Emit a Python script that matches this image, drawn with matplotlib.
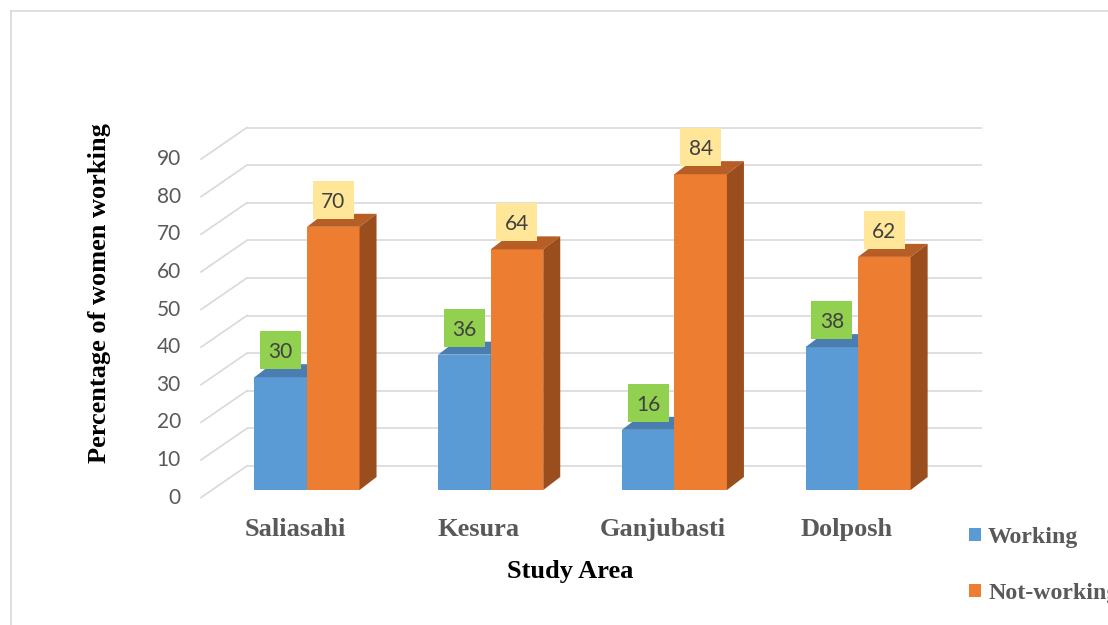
import matplotlib
matplotlib.use("Agg")
import matplotlib.pyplot as plt
from matplotlib.patches import Polygon, Rectangle, Patch
from matplotlib.lines import Line2D

# ---- data ----
areas = ["Saliasahi", "Kesura", "Ganjubasti", "Dolposh"]
working = [30, 36, 16, 38]
not_working = [70, 64, 84, 62]
series_names = ["Working", "Not-working"]
y_ticks = [0, 10, 20, 30, 40, 50, 60, 70, 80, 90]

# ---- style ----
FRONT = ["#5B9BD5", "#ED7D31"]
TOP = ["#4A7DB0", "#B65E25"]
SIDE = ["#3E6C99", "#9A4E1D"]
BOX = ["#92D050", "#FFE699"]
GRID = "#D9D9D9"
SERIF = "Liberation Serif"
SANS = "Lato"

fig = plt.figure(figsize=(11.08, 6.25), dpi=100)
ax = fig.add_axes([0, 0, 1, 1])
ax.set_xlim(-1.6712, 4.3603)
ax.set_ylim(-35.9, 130.32)
ax.axis("off")

# pseudo-3D geometry (category units / value units)
bar_w = 0.286
bar_dx, bar_dy = 0.0925, 3.46          # depth of each bar
wall_left, wall_right = -0.327, 3.674   # back wall extent
wall_dy = 6.4                           # back wall lift
front_x, front_dy = -0.577, -2.0        # front edge of side wall

# back wall and side wall gridlines
for v in y_ticks:
    ax.plot([wall_left, wall_right], [v + wall_dy, v + wall_dy],
            color=GRID, lw=1.2, zorder=1, solid_capstyle="butt")
    ax.plot([front_x, wall_left], [v + front_dy, v + wall_dy],
            color=GRID, lw=1.2, zorder=1)
    ax.text(front_x - 0.11, v + front_dy, str(v), ha="right", va="center",
            fontsize=15, color="#595959", family=SANS)

# bars with top and side faces
for j, vals in enumerate([working, not_working]):
    for i, v in enumerate(vals):
        x0 = i - bar_w if j == 0 else i
        x1 = x0 + bar_w
        ax.bar(x0, v, width=bar_w, align="edge", color=FRONT[j],
               edgecolor="none", zorder=3 + j)
        ax.add_patch(Polygon([(x0, v), (x1, v), (x1 + bar_dx, v + bar_dy),
                              (x0 + bar_dx, v + bar_dy)], closed=True,
                             facecolor=TOP[j], edgecolor="none", zorder=3 + j))
        ax.add_patch(Polygon([(x1, 0), (x1, v), (x1 + bar_dx, v + bar_dy),
                              (x1 + bar_dx, bar_dy)], closed=True,
                             facecolor=SIDE[j], edgecolor="none", zorder=3 + j))
        # value label box
        cx = (x0 + x1) / 2
        bw, bh = 0.223, 10.1
        by = v + 2.1
        ax.add_patch(Rectangle((cx - bw / 2, by), bw, bh, facecolor=BOX[j],
                               edgecolor="none", zorder=6))
        ax.text(cx, by + bh / 2, str(v), ha="center", va="center_baseline",
                fontsize=15, color="#404040", family=SANS, zorder=7)

# category labels
for i, name in enumerate(areas):
    ax.text(i - 0.065, -10.6, name, ha="center", va="center", fontsize=19,
            fontweight="bold", color="#595959", family=SERIF)

# axis titles
ax.text(1.43, -21.6, "Study Area", ha="center", va="center", fontsize=19,
        fontweight="bold", color="black", family=SERIF)
ax.text(-1.127, 52.4, "Percentage of women working", ha="center",
        va="center", rotation=90, fontsize=19, fontweight="bold",
        color="black", family=SERIF)

# legend
handles = [Patch(facecolor=FRONT[k], edgecolor="none") for k in range(2)]
leg = ax.legend(handles, series_names, loc="upper left",
                bbox_to_anchor=(969 / 1108, 1 - 527 / 625),
                bbox_transform=fig.transFigure, frameon=False,
                handlelength=0.5, handleheight=0.5, handletextpad=0.3,
                labelspacing=1.47, borderpad=0, borderaxespad=0,
                prop={"family": SERIF, "weight": "bold", "size": 17.2})
for t in leg.get_texts():
    t.set_color("#595959")

# chart area border (top and left edges)
fig.add_artist(Line2D([11 / 1108, 1.0], [1 - 11 / 625, 1 - 11 / 625],
                      transform=fig.transFigure, color=GRID, lw=1.2))
fig.add_artist(Line2D([11 / 1108, 11 / 1108], [0, 1 - 11 / 625],
                      transform=fig.transFigure, color=GRID, lw=1.2))

fig.savefig("out.png", dpi=100, facecolor="white")
